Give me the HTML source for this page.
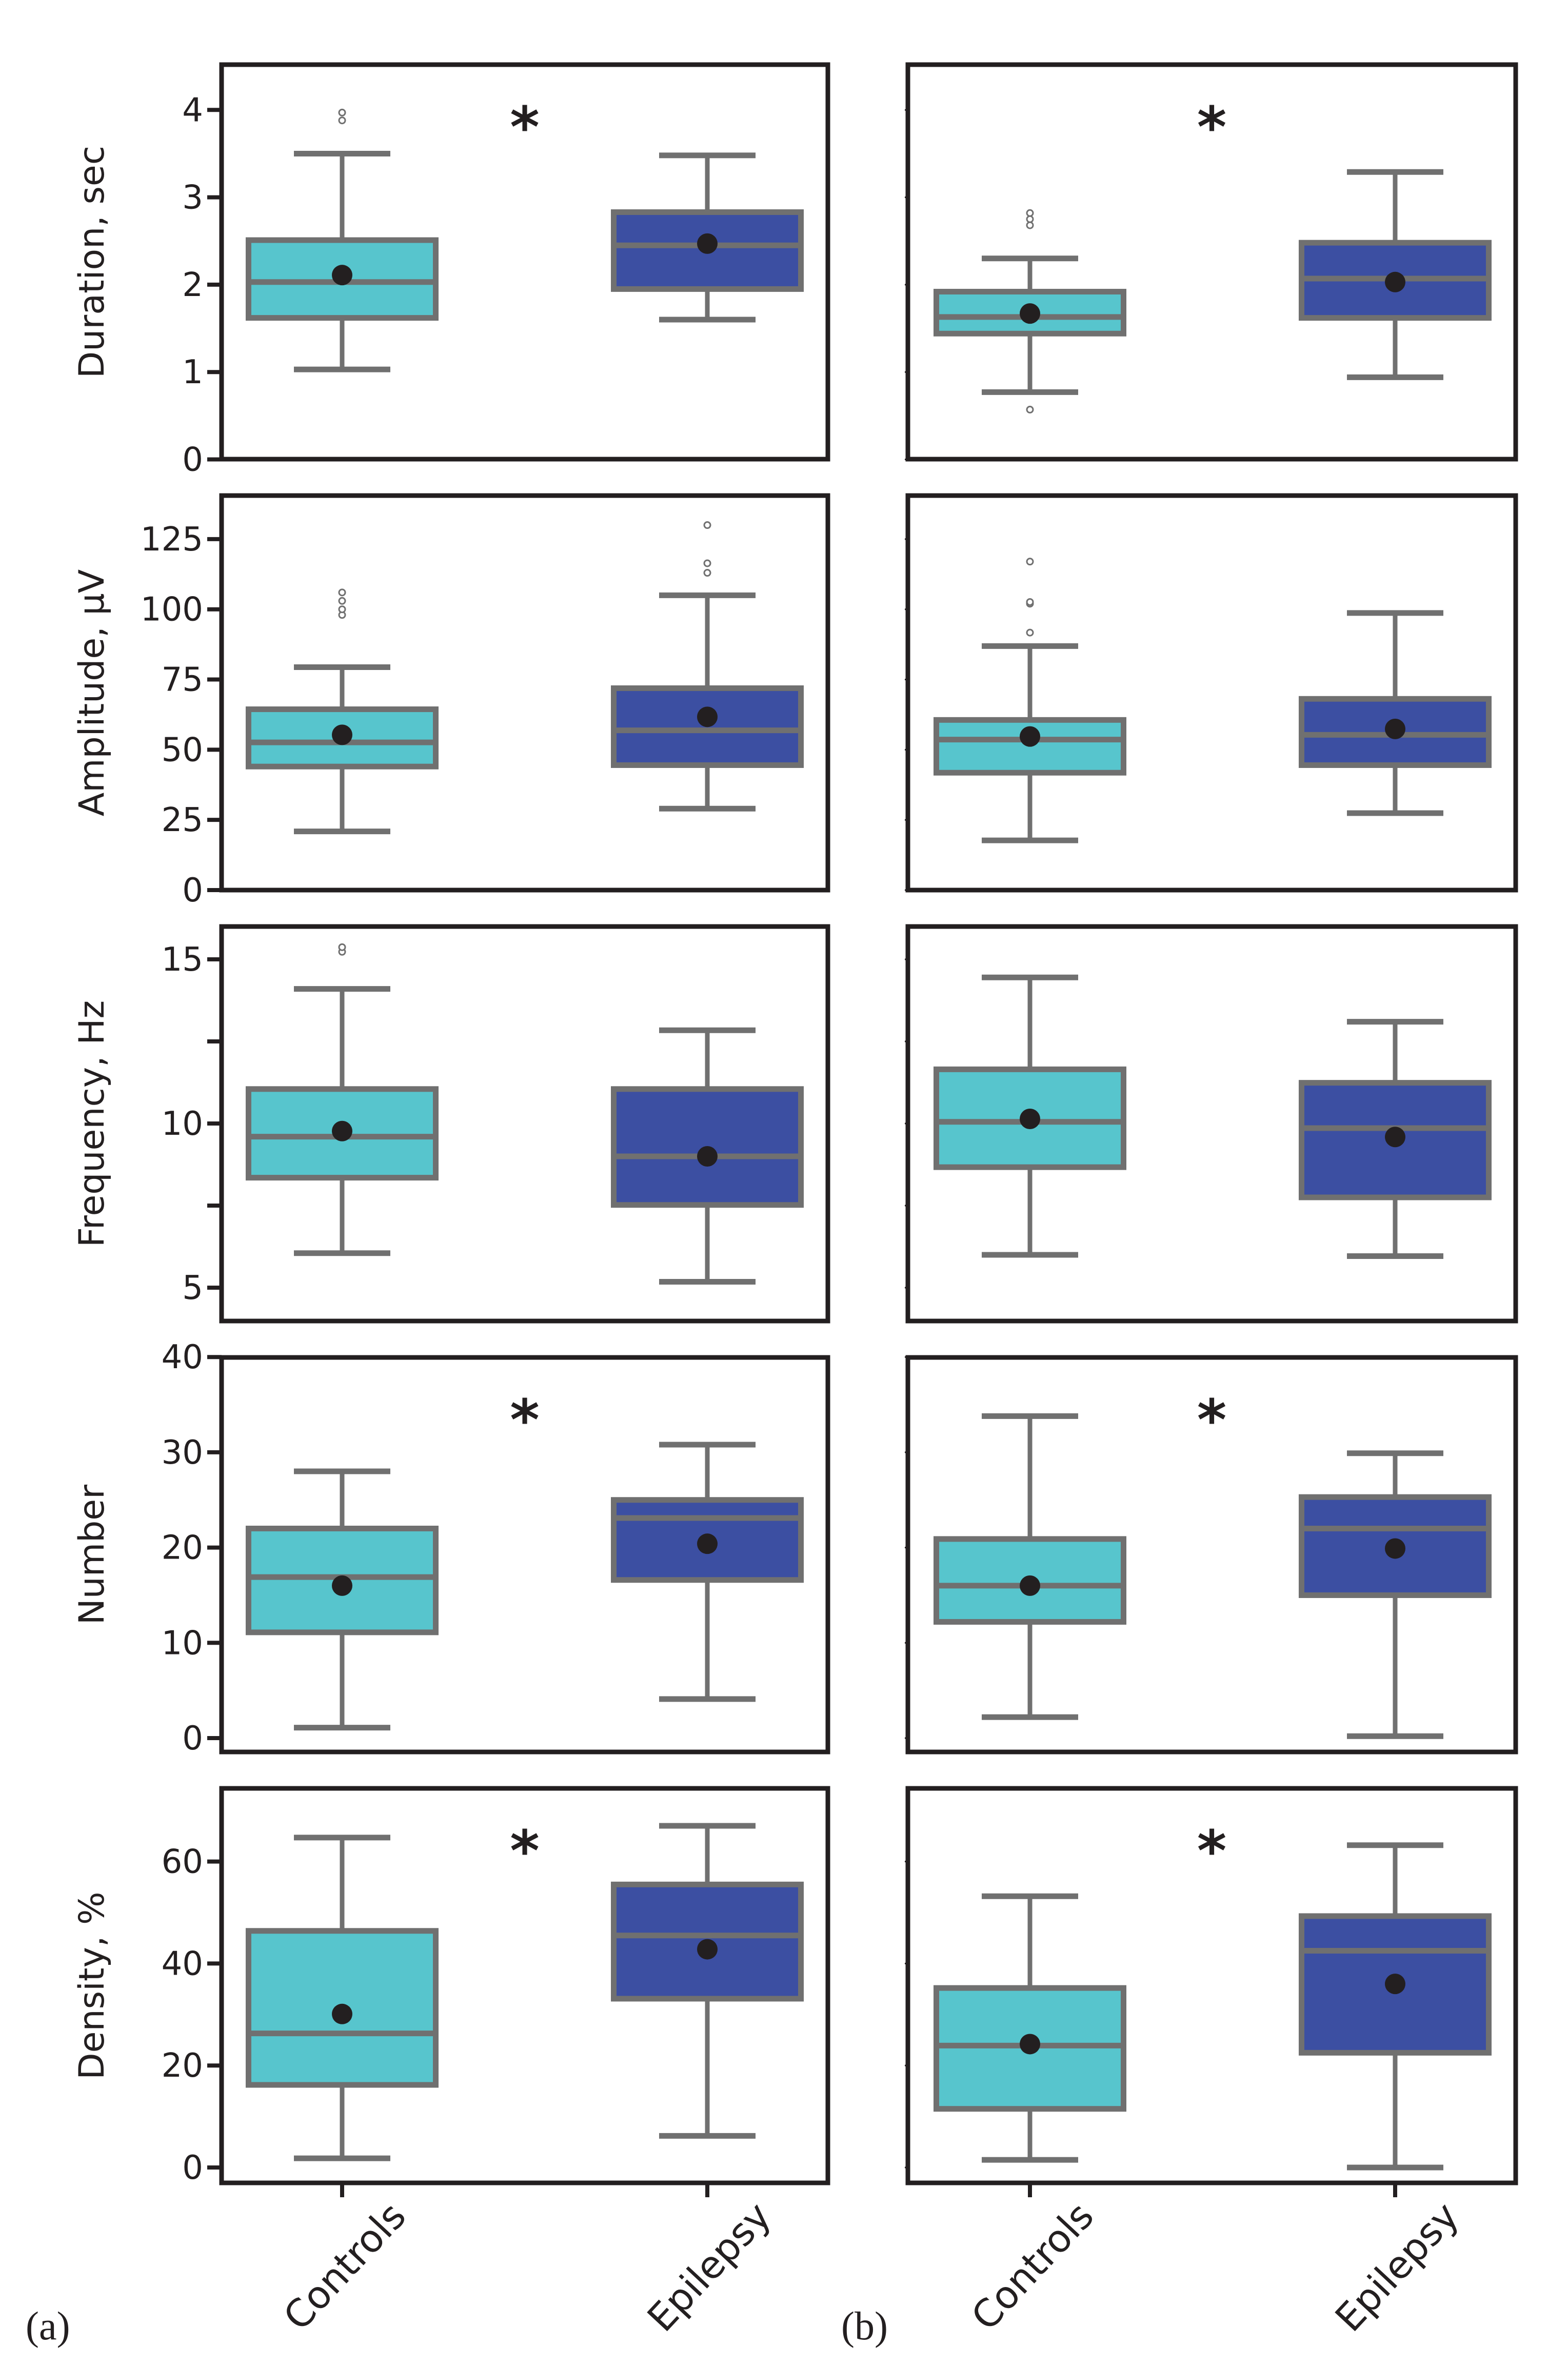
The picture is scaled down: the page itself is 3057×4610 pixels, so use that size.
<!DOCTYPE html>
<html><head><meta charset="utf-8"><style>
html,body{margin:0;padding:0;background:#fff;}
svg{display:block;}
</style></head><body>
<svg id="chart" width="3057" height="4610" viewBox="0 0 3057 4610" xmlns="http://www.w3.org/2000/svg">
<text x="50" y="4560" font-family="Liberation Serif, serif" font-size="78" fill="#231f20">(a)</text>
<text x="1640" y="4560" font-family="Liberation Serif, serif" font-size="78" fill="#231f20">(b)</text>
</svg>
<script>
const categories = ["Controls", "Epilepsy"];
const metrics = ["Duration, sec", "Amplitude, µV", "Frequency, Hz", "Number", "Density, %"];
const significant = [true, false, false, true, true];
const tickLabels = [[0,1,2,3,4],[0,25,50,75,100,125],[5,10,15],[0,10,20,30,40],[0,20,40,60]];
const minorTicks = [[],[],[7.5,12.5],[],[]];
// [panelA, panelB] each: [Controls, Epilepsy] -> [low, q1, median, q3, high, mean]
const statsA = [
  [[1.03,1.62,2.03,2.51,3.5,2.11],[1.6,1.95,2.45,2.83,3.48,2.47]],
  [[20.9,44,52.6,64.4,79.4,55.3],[29,44.5,56.9,71.9,105,61.7]],
  [[6.05,8.35,9.6,11.05,14.1,9.77],[5.18,7.52,9.0,11.05,12.84,9.0]],
  [[1.1,11.1,16.9,22,28,16],[4.1,16.6,23.1,25,30.8,20.4]],
  [[1.8,16.2,26.3,46.4,64.7,30.1],[6.2,33.1,45.5,55.5,67,42.8]]
];
const statsB = [
  [[0.77,1.44,1.63,1.92,2.3,1.67],[0.94,1.62,2.07,2.48,3.29,2.03]],
  [[17.7,41.8,53.6,60.6,86.9,54.7],[27.4,44.5,55.3,68.1,98.7,57.4]],
  [[6.0,8.67,10.05,11.65,14.45,10.14],[5.96,7.75,9.86,11.24,13.1,9.59]],
  [[2.2,12.2,16,20.9,33.8,16],[0.2,15,22,25.3,29.9,19.9]],
  [[1.5,11.5,23.9,35.2,53.2,24.2],[0,22.5,42.5,49.3,63.2,36]]
];
const outliersA = [[[3.88,3.97],[]],[[98,100,103,106],[113,116.4,130]],[[15.23,15.37],[]],[[],[]],[[],[]]];
const outliersB = [[[2.68,2.75,2.82,0.57],[]],[[91.7,102,102.6,117],[]],[[],[]],[[],[]],[[],[]]];

const NS = "http://www.w3.org/2000/svg";
const svg = document.getElementById("chart");
const rowTop = [126,966,1806,2646,3486];
const rowH = 769;
const zeroY = [895.5,1735,2830,3388,4225];
const ppu = [170.3,5.473,64.0,18.57,9.94];
const panelX = [[432,1614],[1770,2955]];
const catX = [[667,1379],[2008,2720]];
const boxW = 365, capW = 188;
const fills = ["#57c5cd","#3c4fa2"];
const grey = "#707070", dark = "#231f20";

function mk(tag, attrs, parent){
  const e = document.createElementNS(NS, tag);
  for (const k in attrs) e.setAttribute(k, attrs[k]);
  (parent||svg).appendChild(e);
  return e;
}
function yScale(r, v){ return zeroY[r] - v*ppu[r]; }

for (let r=0; r<5; r++){
  for (let p=0; p<2; p++){
    const g = mk("g", {});
    
    
    const x0 = panelX[p][0], x1 = panelX[p][1], y0 = rowTop[r], y1 = rowTop[r]+rowH;
    const all = tickLabels[r].concat(minorTicks[r]);
    all.forEach(v=>{
      const y = yScale(r,v);
      const t = mk("line", {x1: p===0? x0-28 : x0-6, x2: x0, y1:y, y2:y, stroke:dark, "stroke-width": p===0?8:3}, g);
      
      
    });
    if (p===0){
      tickLabels[r].forEach(v=>{
        const t = mk("text", {x: x0-36, y: yScale(r,v)+22, "text-anchor":"end", "font-family":"DejaVu Sans, Liberation Sans, sans-serif", "font-size":64, fill:dark}, g);
        t.textContent = v;
        
        
      });
      const cy = (y0+y1)/2;
      const tt = mk("text", {x:0, y:0, transform:`translate(202,${cy}) rotate(-90)`, "text-anchor":"middle", "font-family":"DejaVu Sans, Liberation Sans, sans-serif", "font-size":68, fill:dark}, g);
      tt.textContent = metrics[r];
      
      
    }
    const st = p===0? statsA[r] : statsB[r];
    const ol = p===0? outliersA[r] : outliersB[r];
    for (let c=0; c<2; c++){
      const cx = catX[p][c], s = st[c];
      const bg = mk("g", {}, g);
      
      
      mk("line", {x1:cx,x2:cx,y1:yScale(r,s[0]),y2:yScale(r,s[1]),stroke:grey,"stroke-width":9}, bg);
      mk("line", {x1:cx,x2:cx,y1:yScale(r,s[3]),y2:yScale(r,s[4]),stroke:grey,"stroke-width":9}, bg);
      mk("line", {x1:cx-capW/2,x2:cx+capW/2,y1:yScale(r,s[0]),y2:yScale(r,s[0]),stroke:grey,"stroke-width":11}, bg);
      mk("line", {x1:cx-capW/2,x2:cx+capW/2,y1:yScale(r,s[4]),y2:yScale(r,s[4]),stroke:grey,"stroke-width":11}, bg);
      mk("rect", {x:cx-boxW/2, y:yScale(r,s[3]), width:boxW, height:yScale(r,s[1])-yScale(r,s[3]), fill:fills[c], stroke:grey, "stroke-width":11}, bg);
      mk("line", {x1:cx-boxW/2,x2:cx+boxW/2,y1:yScale(r,s[2]),y2:yScale(r,s[2]),stroke:grey,"stroke-width":11}, bg);
      const m = mk("circle", {cx:cx, cy:yScale(r,s[5]), r:20, fill:dark}, bg);
      
      
      ol[c].forEach(v=>{
        const o = mk("circle", {cx:cx, cy:yScale(r,v), r:6, fill:"#fff", stroke:grey, "stroke-width":3}, bg);
        
        
      });
    }
    if (significant[r]){
      const s = mk("text", {x:(x0+x1)/2, y:y0+160, "text-anchor":"middle", "font-family":"DejaVu Sans, sans-serif", "font-size":110, "font-weight":"bold", fill:dark}, g);
      s.textContent = "*";
      
      
    }
    const fr = mk("rect", {x:x0, y:y0, width:x1-x0, height:rowH, fill:"none", stroke:dark, "stroke-width":9}, g);
    
    
    if (r===4){
      for (let c=0;c<2;c++){
        const cx = catX[p][c];
        mk("line", {x1:cx,x2:cx,y1:y1,y2:y1+28,stroke:dark,"stroke-width":8}, g);
        const lb = mk("text", {x:0,y:0,transform:`translate(${cx+128},${y1+68}) rotate(-47)`,"text-anchor":"end","font-family":"DejaVu Sans, Liberation Sans, sans-serif","font-size":74,fill:dark}, g);
        lb.textContent = categories[c];
        
        
      }
    }
  }
}
</script>
</body></html>
